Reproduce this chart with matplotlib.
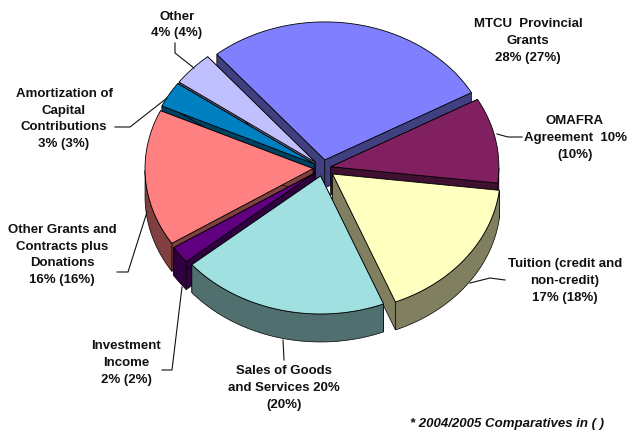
import numpy as np
import matplotlib
matplotlib.use('Agg')
import matplotlib.pyplot as plt
from matplotlib.patches import Polygon

plt.rcParams['font.family'] = ['Liberation Sans', 'DejaVu Sans']

labels = ['MTCU  Provincial\nGrants\n28% (27%)', 'OMAFRA\nAgreement  10%\n(10%)',
          'Tuition (credit and\nnon-credit)\n17% (18%)', 'Sales of Goods\nand Services 20%\n(20%)',
          'Investment\nIncome\n2% (2%)', 'Other Grants and\nContracts plus\nDonations\n16% (16%)',
          'Amortization of\nCapital\nContributions\n3% (3%)', 'Other\n4% (4%)']
values = [28, 10, 17, 20, 2, 16, 3, 4]
colors = ['#8080ff', '#802060', '#ffffc0', '#a0e0e0', '#600080', '#ff8080', '#0080c0', '#c0c0ff']
side_colors = ['#404080', '#401030', '#808060', '#507070', '#300040', '#804040', '#004060', '#606080']

# image-space layout, same pixels as the reference
cx, cy = 323, 168
rx, ry = 168, 138
depth = 28
explode = [10, 8, 12, 10, 10, 10, 10, 10]
start_deg = 130

fig = plt.figure(figsize=(6.28, 4.32), dpi=100)
ax = fig.add_axes([0, 0, 1, 1])
ax.set_xlim(0, 628)
ax.set_ylim(432, 0)
ax.axis('off')

def pt(t, ox, oy, dz=0):
    return np.column_stack([ox + rx * np.cos(t), oy - ry * np.sin(t) + dz])

total = sum(values)
edges = start_deg - np.cumsum([0] + values) / total * 360
wedges = []
for i in range(len(values)):
    a0, a1 = np.radians(edges[i]), np.radians(edges[i + 1])
    mid = (a0 + a1) / 2
    ox = cx + explode[i] * np.cos(mid)
    oy = cy - explode[i] * ry / rx * np.sin(mid)
    wedges.append((i, a0, a1, ox, oy))

# back pieces first so the front ones cover them
wedges.sort(key=lambda w: -np.sin((w[1] + w[2]) / 2))
for i, a0, a1, ox, oy in wedges:
    t = np.linspace(a0, a1, 80)
    top = pt(t, ox, oy)
    # cut faces
    for a in (a0, a1):
        e = pt(np.array([a]), ox, oy)[0]
        quad = [(ox, oy), e, (e[0], e[1] + depth), (ox, oy + depth)]
        ax.add_patch(Polygon(quad, fc=side_colors[i], ec='black', lw=0.5))
    # outer rim, front half only
    tf = t[np.sin(t) < 0]
    if len(tf) > 1:
        rim = np.vstack([pt(tf, ox, oy), pt(tf[::-1], ox, oy, depth)])
        ax.add_patch(Polygon(rim, fc=side_colors[i], ec='black', lw=0.5))
    ax.add_patch(Polygon(np.vstack([[ox, oy], top]), fc=colors[i], ec='black', lw=0.6))

label_pos = [(528, 41), (575, 138), (565, 281), (284, 388), (126, 363), (62, 255), (64, 119), (177, 25)]
for s, (x, y) in zip(labels, label_pos):
    ax.text(x, y, s, ha='center', va='center', fontsize=9.5, fontweight='bold',
            linespacing=1.55, color='#111111')

leaders = [([497, 508, 522], [134, 137, 137]), ([505, 490, 470], [280, 278, 283]), ([283, 284], [340, 360]),
           ([162, 172, 182], [370, 370, 287]), ([117, 128, 147], [272, 272, 212]),
           ([115, 130, 167], [127, 127, 98]), ([175, 175, 194], [43, 53, 68])]
for xs, ys in leaders:
    ax.plot(xs, ys, color='#111111', lw=0.8)

ax.text(507, 424, '* 2004/2005 Comparatives in ( )', ha='center', va='center',
        fontsize=9.5, fontweight='bold', fontstyle='italic', color='#111111')

fig.savefig('out.png', dpi=100)
